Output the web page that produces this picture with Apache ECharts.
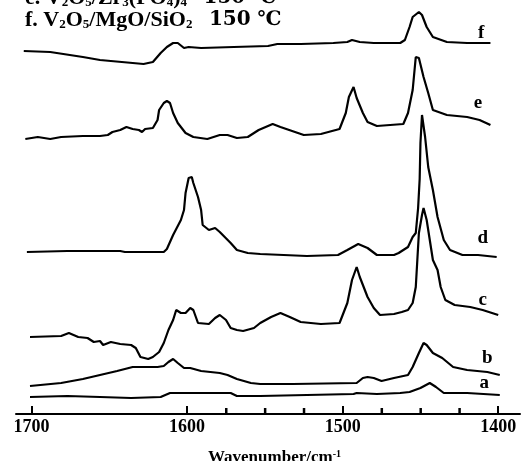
<!DOCTYPE html>
<html>
<head>
<meta charset="utf-8">
<script src="https://cdn.jsdelivr.net/npm/echarts@6/dist/echarts.min.js"></script>
<style>
  html, body { margin: 0; padding: 0; background: #fff; }
  #ir-chart { width: 525px; height: 461px; }
</style>
</head>
<body>
<div id="ir-chart"></div>
<script>
// spectra: [wavenumber, offset absorbance (arb.)]
var specA = [[1701,17],[1677,18],[1656,17],[1636,16],[1617,17],[1611,21],[1602,21],[1572,21],[1568,18],[1553,18],
  [1493,20],[1491,21],[1478,20],[1463,21],[1457,22],[1450,26],[1444,31],[1440,27],[1435,21],[1420,21],[1399,19]];
var specB = [[1701,28],[1681,31],[1667,35],[1656,39],[1645,43],[1635,47],[1619,47],[1615,48],[1612,52],[1609,55],
  [1606,51],[1602,46],[1598,46],[1591,43],[1579,41],[1574,39],[1568,35],[1559,31],[1553,30],[1532,30],[1491,31],
  [1487,36],[1484,37],[1480,36],[1475,33],[1467,36],[1458,39],[1455,47],[1451,61],[1448,71],[1446,69],[1442,61],
  [1436,56],[1429,47],[1420,44],[1407,42],[1399,39]];
var specC = [[1701,77],[1681,78],[1676,81],[1670,77],[1664,76],[1660,72],[1656,73],[1654,69],[1649,72],[1643,70],
  [1636,69],[1633,66],[1630,57],[1625,55],[1622,57],[1618,62],[1615,71],[1612,84],[1609,94],[1607,104],[1604,101],
  [1601,101],[1598,106],[1596,104],[1593,91],[1586,90],[1582,96],[1579,99],[1575,94],[1572,86],[1568,84],[1564,83],
  [1557,86],[1553,91],[1546,97],[1540,101],[1534,97],[1527,92],[1514,90],[1502,91],[1497,111],[1494,134],[1491,147],
  [1489,137],[1484,117],[1480,106],[1476,99],[1467,100],[1462,102],[1458,104],[1455,111],[1453,127],[1452,154],
  [1451,181],[1449,199],[1448,206],[1446,194],[1444,174],[1442,154],[1439,144],[1437,127],[1434,114],[1428,109],
  [1418,107],[1410,104],[1400,99]];
var specD = [[1703,162],[1677,163],[1643,163],[1640,162],[1615,162],[1613,165],[1609,179],[1604,194],[1602,204],
  [1601,221],[1599,236],[1597,237],[1596,231],[1593,217],[1591,204],[1590,189],[1586,184],[1582,186],[1579,182],
  [1572,171],[1568,164],[1561,161],[1553,160],[1523,158],[1503,159],[1497,164],[1490,170],[1484,166],[1478,159],
  [1467,159],[1464,161],[1458,167],[1455,177],[1453,181],[1451.5,206],[1450.5,235],[1450,271],[1449,299],[1447,277],
  [1445,247],[1442,224],[1439,197],[1435,174],[1431,164],[1423,159],[1413,159],[1401,157]];
var specE = [[1704,275],[1696,277],[1688,275],[1681,277],[1667,278],[1656,278],[1651,279],[1648,282],[1643,284],
  [1639,287],[1635,285],[1631,284],[1629,282],[1627,285],[1622,286],[1619,294],[1618,304],[1615,311],[1613,313],
  [1611,311],[1609,301],[1606,291],[1601,281],[1596,277],[1587,275],[1579,279],[1574,279],[1568,276],[1561,277],
  [1554,284],[1545,290],[1540,287],[1525,279],[1514,280],[1502,285],[1498,301],[1496,317],[1493,327],[1491,316],
  [1487,301],[1484,292],[1478,288],[1461,290],[1458,301],[1455,324],[1453,357],[1451,356],[1448,337],[1445,321],
  [1442,304],[1433,299],[1420,297],[1412,294],[1405,289]];
var specF = [[1705,363],[1688,362],[1667,357],[1656,354],[1628,350],[1622,352],[1617,361],[1613,367],[1609,371],
  [1606,371],[1602,366],[1599,367],[1591,366],[1570,367],[1548,368],[1542,370],[1527,370],[1506,371],[1497,372],
  [1494,374],[1489,372],[1480,371],[1463,371],[1460,374],[1457,387],[1455,397],[1451,402],[1449,399],[1446,387],
  [1442,377],[1433,372],[1420,371],[1405,371]];

var curveNames = ['a', 'b', 'c', 'd', 'e', 'f'];
var curveData = [specA, specB, specC, specD, specE, specF];
// where each letter sits
var tagPos = [[1409,31],[1407,56],[1410,114],[1410,176],[1413,311],[1411,381]];

// full plotted range, and the labelled span inside it
var xMin = 1386, xMax = 1710;
var tickMin = 1400, tickMax = 1700;
var majorStep = 100;
var minorTicks = [1575, 1550, 1525, 1475, 1450, 1425];

var serif = '"Liberation Serif", "DejaVu Serif", serif';
var subStyle = { fontSize: 13, fontWeight: 'bold', fontFamily: serif, verticalAlign: 'bottom', padding: [7, 0, 0, 0] };
var numStyle = { fontSize: 20, fontWeight: 'bold', fontFamily: '"DejaVu Serif", serif' };

// second grid covers only 1400..1700 so the ticks start on a round value
var gLeft = 16, gRight = 5, plotW = 525 - gLeft - gRight;
var pxPer = plotW / (xMax - xMin);
var tLeft = gLeft + (xMax - tickMax) * pxPer;
var tRight = gRight + (tickMin - xMin) * pxPer;

var series = [];
curveData.forEach(function (d, i) {
    series.push({
        name: curveNames[i],
        type: 'line',
        data: d,
        showSymbol: false,
        lineStyle: { color: '#000', width: 2.2 },
        silent: true
    });
});

var myChart = echarts.init(document.getElementById('ir-chart'));
var option = {
    backgroundColor: '#fff',
    animation: false,
    grid: [
        { left: gLeft, right: gRight, top: 4, bottom: 47, outerBoundsMode: 'none' },
        { left: tLeft, right: tRight, top: 4, bottom: 47, outerBoundsMode: 'none' }
    ],
    xAxis: [{
        gridIndex: 0,
        type: 'value',
        inverse: true,
        min: xMin,
        max: xMax,
        splitLine: { show: false },
        axisLine: { lineStyle: { color: '#000', width: 2 } },
        axisTick: { show: false },
        axisLabel: { show: false }
    }, {
        gridIndex: 1,
        type: 'value',
        inverse: true,
        min: tickMin,
        max: tickMax,
        interval: majorStep,
        splitLine: { show: false },
        axisLine: { show: false },
        axisTick: { inside: true, length: 8, lineStyle: { color: '#000', width: 2 } },
        axisLabel: {
            formatter: function (v) { return String(v); },
            margin: 4,
            color: '#000',
            fontSize: 18,
            fontWeight: 'bold',
            fontFamily: serif
        }
    }],
    yAxis: [
        { gridIndex: 0, type: 'value', min: 0, max: 410, show: false },
        { gridIndex: 1, type: 'value', min: 0, max: 410, show: false }
    ],
    graphic: [{
        id: 'title-e',
        type: 'text',
        left: 25, top: -13,
        style: {
            text: 'e. V{s|2}O{s|5}/Zr{s|3}(PO{s|4}){s|4}   {n|150 ℃}',
            font: 'bold 22px ' + serif,
            fill: '#000',
            rich: { s: subStyle, n: numStyle }
        }
    }, {
        id: 'title-f',
        type: 'text',
        left: 25, top: 9,
        style: {
            text: 'f. V{s|2}O{s|5}/MgO/SiO{s|2}   {n|150 ℃}',
            font: 'bold 22px ' + serif,
            fill: '#000',
            rich: { s: subStyle, n: numStyle }
        }
    }, {
        id: 'x-name',
        type: 'text',
        left: 208, top: 449,
        style: {
            text: 'Wavenumber/cm{p|-1}',
            font: 'bold 17px ' + serif,
            fill: '#000',
            rich: { p: { fontSize: 10, fontWeight: 'bold', fontFamily: serif, verticalAlign: 'top', padding: [0, 0, 8, 0] } }
        }
    }],
    series: series
};
myChart.setOption(option);

// curve letters and short ticks, placed through the chart's own scales
var extras = tagPos.map(function (p, i) {
    var px = myChart.convertToPixel({ xAxisIndex: 0, yAxisIndex: 0 }, p);
    return {
        id: 'tag-' + curveNames[i],
        type: 'text',
        x: px[0], y: px[1],
        style: {
            text: curveNames[i],
            font: 'bold 19px ' + serif,
            fill: '#000',
            align: 'center',
            verticalAlign: 'middle'
        }
    };
});
minorTicks.forEach(function (v) {
    var px = myChart.convertToPixel({ xAxisIndex: 0, yAxisIndex: 0 }, [v, 0]);
    extras.push({
        id: 'minor-' + v,
        type: 'rect',
        z: 100,
        shape: { x: px[0] - 1, y: px[1] - 6, width: 2.5, height: 6 },
        style: { fill: '#000' }
    });
});
myChart.setOption({ graphic: extras });
</script>
</body>
</html>
